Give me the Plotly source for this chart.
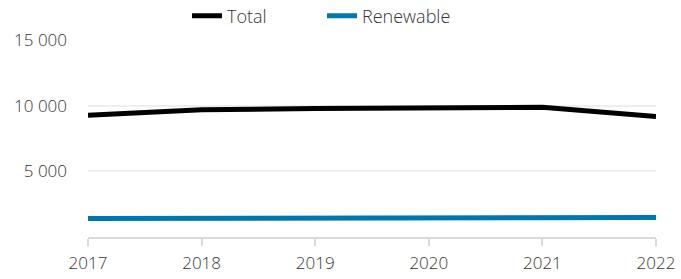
import plotly.graph_objects as go

years = [2017, 2018, 2019, 2020, 2021, 2022]
total = [9275, 9680, 9790, 9860, 9880, 9180]
renewable = [1410, 1440, 1470, 1490, 1490, 1490]
y_ticks = [5000, 10000, 15000]
y_tick_labels = ["5 000", "10 000", "15 000"]

fig = go.Figure()
fig.add_trace(go.Scatter(x=years, y=total, name="Total", mode="lines",
                         line=dict(color="#000000", width=5)))
fig.add_trace(go.Scatter(x=years, y=renewable, name="Renewable", mode="lines",
                         line=dict(color="#0076AE", width=5)))

tick_font = dict(family="Open Sans, sans-serif", size=17, color="#333333", weight=300)
legend_font = dict(family="Open Sans, sans-serif", size=18, color="#333333", weight=300)
fig.update_layout(
    width=681, height=279,
    margin=dict(l=88, r=25, t=40, b=42, autoexpand=False),
    paper_bgcolor="white", plot_bgcolor="white",
    font=tick_font,
    showlegend=True,
    legend=dict(orientation="h", x=322 / 681, xanchor="center", xref="container",
                y=1 - 16 / 279, yanchor="middle", yref="container",
                font=legend_font, tracegroupgap=0,
                entrywidth=90, entrywidthmode="pixels"),
)
fig.update_xaxes(range=[2017, 2022], tickvals=years, showgrid=False,
                 showline=True, linecolor="#D9D9D9", linewidth=2,
                 ticks="outside", tickcolor="#D9D9D9", tickwidth=2, ticklen=7,
                 tickfont=tick_font, zeroline=False, automargin=False,
                 ticklabelstandoff=3)
fig.update_yaxes(range=[0, 15000], tickvals=y_ticks, ticktext=y_tick_labels,
                 showgrid=True, gridcolor="#EEEEEE", gridwidth=2,
                 showline=False, zeroline=False, tickfont=tick_font, ticks="",
                 ticklabelstandoff=20, automargin=False)
fig.write_html("out.html", config={"displayModeBar": False},
               post_script="document.body.style.margin='0';document.body.style.padding='0';")
